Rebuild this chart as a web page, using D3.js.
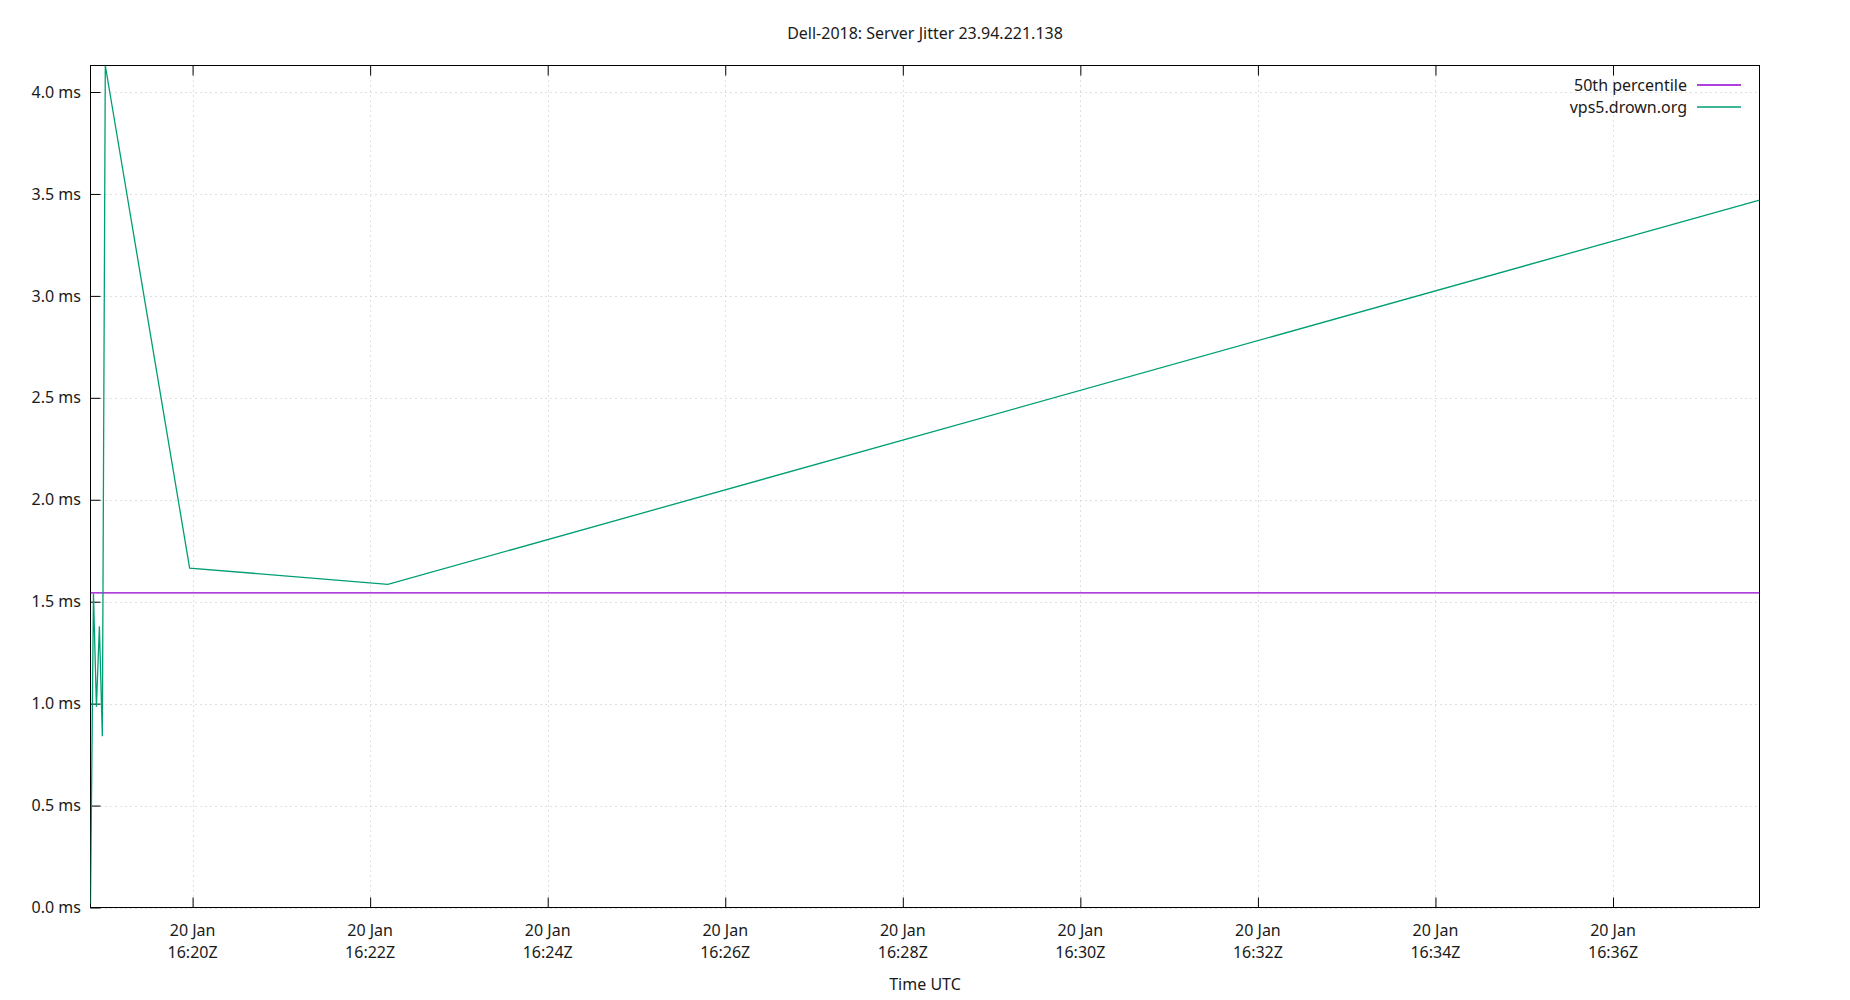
<!DOCTYPE html>
<html>
<head>
<meta charset="utf-8">
<script src="https://cdn.jsdelivr.net/npm/d3@7"></script>
<style>
  html, body { margin: 0; padding: 0; background: #fff; }
  svg { display: block; }
  text { font-family: "Noto Sans", "Open Sans", sans-serif; fill: #1a1a1a; }
</style>
</head>
<body>
<svg id="chart" width="1850" height="1000"></svg>
<script>
// ---- data ----
const chartTitle = "Dell-2018: Server Jitter 23.94.221.138";
const xAxisTitle = "Time UTC";
const day = "2021-01-20";
const sampleTimes = ["16:18:51", "16:18:53", "16:18:55", "16:18:57", "16:18:59", "16:19:01", "16:19:58", "16:22:12", "16:37:39"];
const jitterMs = [0.02, 1.54, 0.985, 1.38, 0.84, 4.13, 1.665, 1.585, 3.47];
const medianMs = 1.543;
const seriesNames = ["50th percentile", "vps5.drown.org"];
const seriesColors = ["#9400d3", "#009e73"];
const yTicks = [0, 0.5, 1.0, 1.5, 2.0, 2.5, 3.0, 3.5, 4.0];
const xTickTimes = ["16:20", "16:22", "16:24", "16:26", "16:28", "16:30", "16:32", "16:34", "16:36"];
const yMax = 4.13;

// ---- layout ----
const svg = d3.select("#chart");
const L = 90.5, R = 1759.5, T = 65.5, B = 907.5;
const parse = d3.utcParse("%Y-%m-%d %H:%M:%S");
const parseTick = d3.utcParse("%Y-%m-%d %H:%M");
const pts = sampleTimes.map((t, i) => ({ t: parse(day + " " + t), v: jitterMs[i] }));
const ticksX = xTickTimes.map(t => parseTick(day + " " + t));

const x = d3.scaleUtc().domain([pts[0].t, pts[pts.length - 1].t]).range([L, R]);
const y = d3.scaleLinear().domain([0, yMax]).range([B, T]);

// grid
const grid = svg.append("g");
grid.selectAll("line.gy").data(yTicks).join("line")
  .attr("x1", L).attr("x2", R)
  .attr("y1", d => Math.round(y(d)) + 0.5).attr("y2", d => Math.round(y(d)) + 0.5)
  .attr("stroke", "#c0c0c0").attr("stroke-width", 1).attr("stroke-dasharray", "1,4");
grid.selectAll("line.gx").data(ticksX).join("line")
  .attr("x1", d => Math.round(x(d)) + 0.5).attr("x2", d => Math.round(x(d)) + 0.5)
  .attr("y1", T).attr("y2", B)
  .attr("stroke", "#c0c0c0").attr("stroke-width", 1).attr("stroke-dasharray", "1,4");

// axes (ticks inward)
const yAxis = d3.axisLeft(y).tickValues(yTicks).tickSize(-10).tickPadding(9.5)
  .tickFormat(d => d3.format(".1f")(d) + " ms");
const gy = svg.append("g").attr("transform", `translate(${L},0)`).call(yAxis);
gy.select(".domain").remove();
gy.selectAll(".tick line").attr("stroke", "#000");
gy.selectAll(".tick text").attr("font-size", 16).attr("fill", "#1a1a1a")
  .style("font-family", '"Noto Sans", "Open Sans", sans-serif');

const xAxis = d3.axisBottom(x).tickValues(ticksX).tickSize(-10).tickFormat("");
const gx = svg.append("g").attr("transform", `translate(0,${B})`).call(xAxis);
gx.select(".domain").remove();
gx.selectAll(".tick line").attr("stroke", "#000");
const xAxisTop = d3.axisTop(x).tickValues(ticksX).tickSize(-10).tickFormat("");
const gxt = svg.append("g").attr("transform", `translate(0,${T})`).call(xAxisTop);
gxt.select(".domain").remove();
gxt.selectAll(".tick line").attr("stroke", "#000");

// x tick labels (two lines)
const fmtDay = d3.utcFormat("%-d %b");
const fmtTime = d3.utcFormat("%H:%MZ");
const xl = svg.append("g");
xl.selectAll("text.d").data(ticksX).join("text")
  .attr("x", d => x(d)).attr("y", 936).attr("text-anchor", "middle").attr("font-size", 16)
  .text(d => fmtDay(d));
xl.selectAll("text.t").data(ticksX).join("text")
  .attr("x", d => x(d)).attr("y", 958).attr("text-anchor", "middle").attr("font-size", 16)
  .text(d => fmtTime(d));

// border
svg.append("rect").attr("x", L).attr("y", T).attr("width", R - L).attr("height", B - T)
  .attr("fill", "none").attr("stroke", "#000").attr("stroke-width", 1);

// clip
svg.append("clipPath").attr("id", "clip").append("rect")
  .attr("x", L).attr("y", T).attr("width", R - L).attr("height", B - T);
const plot = svg.append("g").attr("clip-path", "url(#clip)");

// median line
plot.append("line")
  .attr("x1", L).attr("x2", R).attr("y1", y(medianMs)).attr("y2", y(medianMs))
  .attr("stroke", seriesColors[0]).attr("stroke-width", 1.3);

// jitter line
const line = d3.line().x(d => x(d.t)).y(d => y(d.v));
plot.append("path").datum(pts).attr("d", line)
  .attr("fill", "none").attr("stroke", seriesColors[1]).attr("stroke-width", 1.3)
  .attr("stroke-linejoin", "miter");

// legend
const lg = svg.append("g");
seriesNames.forEach((name, i) => {
  const yy = 85 + i * 22;
  lg.append("text").attr("x", 1687).attr("y", yy + 5.5).attr("text-anchor", "end")
    .attr("font-size", 16).text(name);
  lg.append("line").attr("x1", 1697).attr("x2", 1741).attr("y1", yy).attr("y2", yy)
    .attr("stroke", seriesColors[i]).attr("stroke-width", 1.3);
});

// titles
svg.append("text").attr("x", 925).attr("y", 39).attr("text-anchor", "middle")
  .attr("font-size", 16).text(chartTitle);
svg.append("text").attr("x", 925).attr("y", 990).attr("text-anchor", "middle")
  .attr("font-size", 16).text(xAxisTitle);
</script>
</body>
</html>
